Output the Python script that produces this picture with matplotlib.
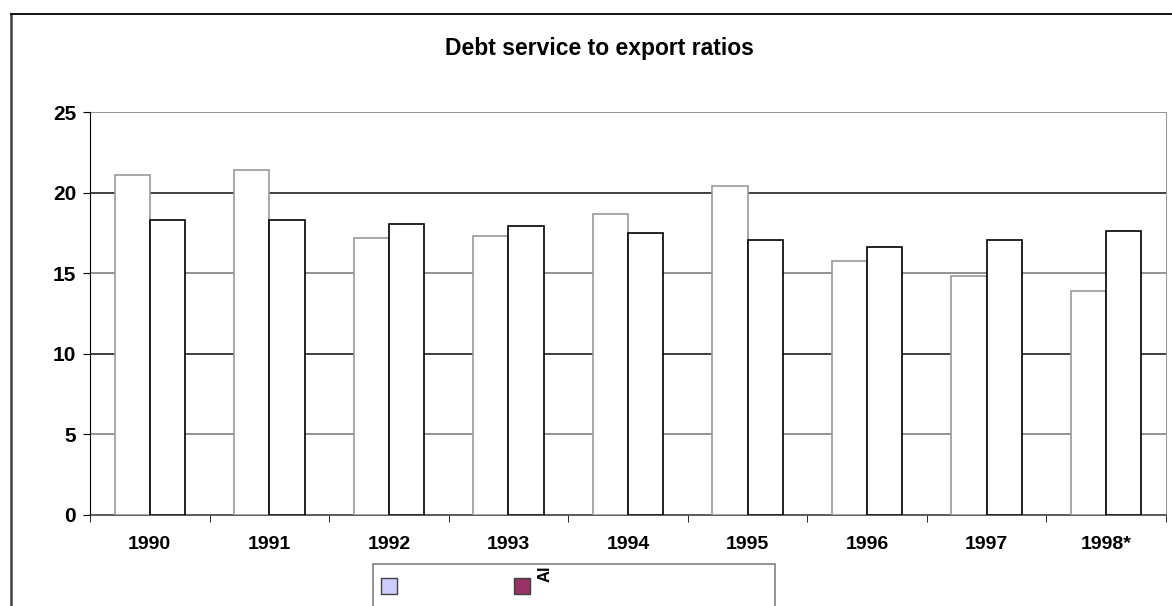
import numpy as np
import matplotlib
matplotlib.use("Agg")
import matplotlib.pyplot as plt
from matplotlib.patches import Rectangle

plt.rcParams['font.family'] = ['Liberation Sans', 'DejaVu Sans']

# data
years = ['1990', '1991', '1992', '1993', '1994', '1995', '1996', '1997', '1998*']
series_a = [21.1, 21.4, 17.2, 17.3, 18.65, 20.4, 15.75, 14.8, 13.9]
series_b = [18.3, 18.3, 18.05, 17.9, 17.5, 17.05, 16.6, 17.05, 17.6]
y_ticks = [0, 5, 10, 15, 20, 25]

W, H = 1172, 606
fig = plt.figure(figsize=(W / 100, H / 100), dpi=100)
fig.patch.set_facecolor('white')

# outer chart frame (runs off the bottom and right edge)
fig.add_artist(plt.Line2D([11 / W, 11 / W], [0, 1 - 14 / H], color='#404040', lw=1.8, transform=fig.transFigure))
fig.add_artist(plt.Line2D([11 / W, 1], [1 - 14 / H, 1 - 14 / H], color='black', lw=1.3, transform=fig.transFigure))

ax = fig.add_axes([90 / W, (H - 515) / H, (1166 - 90) / W, (515 - 112) / H])

x = np.arange(len(years))
bw = 0.295
ax.bar(x - bw / 2, series_a, width=bw, facecolor='white', edgecolor='#999999', linewidth=1.2, zorder=3)
ax.bar(x + bw / 2, series_b, width=bw, facecolor='white', edgecolor='black', linewidth=1.2, zorder=3)

# gridlines alternate grey / dark
for v in y_ticks[1:]:
    c = '#202020' if v in (10, 20) else '#808080'
    ax.axhline(v, color=c, lw=1.2, zorder=1)

ax.set_xlim(-0.5, len(years) - 0.5)
ax.set_ylim(0, 25)
ax.set_yticks(y_ticks)
ax.set_yticklabels([str(v) for v in y_ticks], fontsize=15, fontweight='bold')
ax.set_xticks(x)
ax.set_xticklabels(years, fontsize=14, fontweight='bold')
ax.set_xticks(np.arange(len(years) + 1) - 0.5, minor=True)
ax.tick_params(axis='x', which='major', length=0, pad=15)
ax.tick_params(axis='x', which='minor', length=5, direction='out', color='black')
ax.tick_params(axis='y', length=5, direction='out', pad=5)

ax.spines['top'].set_visible(False)
ax.spines['right'].set_color('#999999')
ax.spines['left'].set_color('black')
ax.spines['bottom'].set_color('#404040')
ax.spines['bottom'].set_linewidth(1.2)

fig.text(599 / W, 1 - 48 / H, 'Debt service to export ratios', ha='center', va='center',
         fontsize=16.5, fontweight='bold')

# legend box (cut off at the bottom)
fig.add_artist(Rectangle((373 / W, -0.05), (775 - 373) / W, (606 - 564) / H + 0.05,
                         transform=fig.transFigure, facecolor='white', edgecolor='#808080', lw=1.2))
fig.add_artist(Rectangle((381 / W, 1 - 594 / H), 16 / W, 16 / H, transform=fig.transFigure,
                         facecolor='#CCCCFF', edgecolor='#404040', lw=1))
fig.add_artist(Rectangle((514 / W, 1 - 594 / H), 16 / W, 16 / H, transform=fig.transFigure,
                         facecolor='#993366', edgecolor='#404040', lw=1))
fig.text(545 / W, 1 - 574 / H, 'Al', rotation=90, ha='center', va='center', fontsize=12, fontweight='bold')

fig.savefig('out.png', dpi=100)
